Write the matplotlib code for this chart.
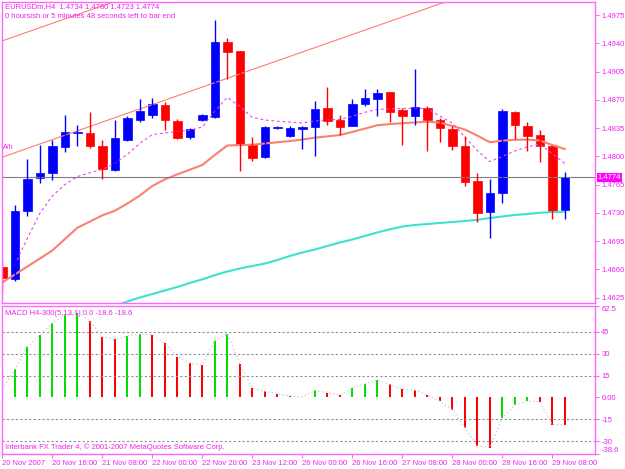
import numpy as np
import matplotlib.pyplot as plt
from matplotlib.transforms import blended_transform_factory

plt.rcParams['font.family'] = ['Liberation Sans', 'DejaVu Sans']

# EURUSDm H4 candles, 20 Nov 2007 .. 29 Nov 2007
opens = [1.46628, 1.46483, 1.47318, 1.47729, 1.47798, 1.48115, 1.48284, 1.48293,
         1.48131, 1.47832, 1.48206, 1.48455, 1.48508, 1.48633, 1.48442, 1.48234,
         1.48446, 1.48488, 1.49410, 1.49305, 1.48156, 1.47990, 1.48347, 1.48247,
         1.48339, 1.48364, 1.48600, 1.48455, 1.48371, 1.48654, 1.48704, 1.48795,
         1.48571, 1.48496, 1.48600, 1.48446, 1.48343, 1.48131, 1.47699, 1.47305,
         1.47549, 1.48551, 1.48380, 1.48268, 1.48122, 1.4734]
highs = [1.46711, 1.47392, 1.47965, 1.48143, 1.48197, 1.48517, 1.48392, 1.48546,
         1.48206, 1.48446, 1.48496, 1.48704, 1.48725, 1.48667, 1.48467, 1.48351,
         1.48530, 1.49691, 1.49464, 1.49310, 1.48234, 1.48370, 1.48376, 1.48380,
         1.48380, 1.48691, 1.48862, 1.48517, 1.48704, 1.48828, 1.48828, 1.48800,
         1.48600, 1.49086, 1.48629, 1.48476, 1.48371, 1.48247, 1.47798, 1.47724,
         1.48588, 1.48567, 1.48430, 1.48330, 1.48125, 1.4780]
lows = [1.46316, 1.46462, 1.47259, 1.47674, 1.47707, 1.48052, 1.48122, 1.48102,
        1.47724, 1.47820, 1.48185, 1.48426, 1.48476, 1.48330, 1.48214, 1.48214,
        1.48442, 1.48470, 1.48953, 1.47819, 1.47944, 1.47980, 1.48339, 1.48239,
        1.48090, 1.47999, 1.48389, 1.48268, 1.48371, 1.48629, 1.48496, 1.48426,
        1.48140, 1.48384, 1.48072, 1.48172, 1.48081, 1.47633, 1.47188, 1.46993,
        1.47425, 1.48214, 1.48072, 1.47935, 1.47230, 1.4723]
closes = [1.46495, 1.47325, 1.47720, 1.47798, 1.48131, 1.48301, 1.48301, 1.48131,
          1.47844, 1.48227, 1.48476, 1.48558, 1.48642, 1.48446, 1.48222, 1.48334,
          1.48517, 1.49414, 1.49293, 1.48140, 1.47981, 1.48364, 1.48368, 1.48351,
          1.48364, 1.48588, 1.48434, 1.48364, 1.48654, 1.48725, 1.48782, 1.48551,
          1.48505, 1.48608, 1.48446, 1.48351, 1.48131, 1.47686, 1.47300, 1.47542,
          1.48558, 1.48384, 1.48247, 1.48122, 1.47313, 1.4774]

# moving averages
ma_slow = [1.46438, 1.46537, 1.46635, 1.46734, 1.46834, 1.46974, 1.47115, 1.47192,
           1.47269, 1.47326, 1.47415, 1.47514, 1.47633, 1.47714, 1.47777, 1.47834,
           1.47893, 1.48016, 1.48134, 1.48140, 1.48143, 1.48159, 1.48174, 1.48189,
           1.48208, 1.48231, 1.48247, 1.48264, 1.48302, 1.48343, 1.48385, 1.48399,
           1.48410, 1.48419, 1.48429, 1.48419, 1.48376, 1.48332, 1.48257, 1.48175,
           1.48194, 1.48205, 1.48208, 1.48196, 1.48140, 1.48091]
ma_fast = [np.nan, 1.46654, 1.46984, 1.47293, 1.47509, 1.47650, 1.47750, 1.47795,
           1.47837, 1.47911, 1.48024, 1.48160, 1.48270, 1.48289, 1.48307, 1.48324,
           1.48363, 1.48558, 1.48731, 1.48617, 1.48483, 1.48450, 1.48435, 1.48425,
           1.48413, 1.48437, 1.48452, 1.48457, 1.48496, 1.48545, 1.48580, 1.48589,
           1.48592, 1.48595, 1.48592, 1.48499, 1.48413, 1.48239, 1.48072, 1.47935,
           1.47998, 1.48067, 1.48116, 1.48153, 1.48034, 1.47911]
ma_long_start = 9
ma_long = [1.46147, 1.46202, 1.46252, 1.46295, 1.46339, 1.46382, 1.46432, 1.46477,
           1.46528, 1.46574, 1.46611, 1.46642, 1.46672, 1.46716, 1.46766, 1.46809,
           1.46846, 1.46890, 1.46933, 1.46970, 1.47014, 1.47057, 1.47096, 1.47131,
           1.47150, 1.47162, 1.47175, 1.47187, 1.47199, 1.47214, 1.47236, 1.47255,
           1.47274, 1.47286, 1.47301, 1.47311, 1.47314]

# channel trendlines (anchor bars and prices)
channel_bars = [0, 45]
channel_low = [1.4799, 1.5043]
channel_high = [1.4943, 1.5187]

bid = 1.4774

macd = [5.7, 19.5, 34.5, 42.7, 50.9, 56.6, 58.0, 52.3, 41.6, 39.8, 42.0, 43.2,
        43.0, 37.0, 28.0, 23.4, 22.5, 38.9, 43.6, 23.0, 6.4, 4.1, 2.5, 1.1, 0.3,
        4.8, 3.4, 1.6, 6.4, 9.3, 12.0, 8.9, 5.7, 5.0, 1.8, -2.5, -8.4, -20.5,
        -33.0, -34.5, -14.1, -5.2, -2.3, -3.0, -18.5, -18.6]

price_ticks = [1.4975, 1.4940, 1.4905, 1.4870, 1.4835, 1.4800, 1.4765,
               1.4730, 1.4695, 1.4660, 1.4625]
macd_ticks = [62.5, 45, 30, 15, 0, -15, -30, -38.6]
macd_tick_labels = ['62.5', '45', '30', '15', '0.00', '-15', '-30', '-38.6']
macd_levels = [45, 30, 15, -15, -30]
date_ticks = [0, 4, 8, 12, 16, 20, 24, 28, 32, 36, 40, 44]
date_labels = ['20 Nov 2007', '20 Nov 16:00', '21 Nov 08:00', '22 Nov 00:00',
               '22 Nov 20:00', '23 Nov 12:00', '26 Nov 00:00', '26 Nov 16:00',
               '27 Nov 08:00', '28 Nov 00:00', '28 Nov 16:00', '29 Nov 08:00']

PINK = '#FF66FF'
TXT = '#F020F0'
FS = 5.5

x = np.arange(len(opens))
o = np.array(opens); c = np.array(closes)
up = c >= o
cand_col = np.where(up, '#0000FF', '#FF0000')

fig = plt.figure(figsize=(6.25, 4.69), dpi=100)
ax = fig.add_axes([2 / 625, 1 - 303 / 469, 593 / 625, 301 / 469])
ax2 = fig.add_axes([2 / 625, 1 - 454 / 469, 593 / 625, 148 / 469])

xlim = (-0.024, 47.42)

# ---- price panel
ax.plot(channel_bars, channel_low, color='#FA8072', lw=0.8)
ax.plot(channel_bars, channel_high, color='#FA8072', lw=0.8)
ax.plot(x[ma_long_start:], ma_long, color='#40E0D0', lw=1.5)
ax.plot(x, ma_slow, color='#FA8072', lw=1.5)
ax.plot(x, ma_fast, color='#EE44EE', lw=0.8, ls=(0, (2.5, 2.5)))
ax.axhline(bid, color='#808080', lw=0.8)

ax.vlines(x, lows, highs, colors=cand_col, lw=1.0)
ax.bar(x, np.abs(c - o), bottom=np.minimum(o, c), width=0.68,
       color=cand_col, edgecolor=cand_col, linewidth=0.5)

ax.set_xlim(*xlim)
ax.set_ylim(1.46184, 1.49911)
ax.set_xticks([])
ax.yaxis.tick_right()
ax.set_yticks(price_ticks)
ax.set_yticklabels(['%.4f' % p for p in price_ticks])
ax.tick_params(axis='y', colors=PINK, labelcolor=TXT, labelsize=FS,
               length=3, width=0.8, pad=1.5)
for s in ax.spines.values():
    s.set_color(PINK)
    s.set_linewidth(1.0)

ax.text(0.005, 0.997, 'EURUSDm,H4  1.4734 1.4780 1.4723 1.4774',
        transform=ax.transAxes, ha='left', va='top', color=TXT, fontsize=FS)
ax.text(0.005, 0.963, '0 hoursish or 5 minutes 48 seconds left to bar end',
        transform=ax.transAxes, ha='left', va='top', color=TXT, fontsize=FS)
ax.text(0.002, 0.515, 'A/h', transform=ax.transAxes, ha='left', va='center',
        color=TXT, fontsize=FS - 0.5)
tr = blended_transform_factory(ax.transAxes, ax.transData)
ax.text(1.004, bid, '1.4774', transform=tr, ha='left', va='center',
        color='white', fontsize=FS, zorder=5,
        bbox=dict(facecolor='#FF00FF', edgecolor='none', pad=0.6))

# ---- MACD panel
m = np.array(macd)
rising = np.r_[False, m[1:] > m[:-1]]
bar_col = np.where(rising, '#00E000', '#FF0000')
for lv in macd_levels:
    ax2.axhline(lv, color='#909090', lw=0.8, ls=(0, (2, 2)))
ax2.bar(x, m, width=0.17, color=bar_col)
ax2.plot(x, m, color='#C8C8C8', lw=0.9, ls=(0, (1, 2)))

ax2.set_xlim(*xlim)
ax2.set_ylim(-38.6, 62.5)
ax2.yaxis.tick_right()
ax2.set_yticks(macd_ticks)
ax2.set_yticklabels(macd_tick_labels)
ax2.tick_params(axis='y', colors=PINK, labelcolor=TXT, labelsize=FS,
                length=3, width=0.8, pad=1.5)
labs = ax2.get_yticklabels()
labs[0].set_va('top')
labs[-1].set_va('bottom')
ax2.set_xticks(date_ticks)
ax2.set_xticklabels(date_labels)
ax2.tick_params(axis='x', colors=PINK, labelcolor=TXT, labelsize=FS,
                length=3, width=0.8, pad=1)
for lab in ax2.get_xticklabels():
    lab.set_ha('left')
for s in ax2.spines.values():
    s.set_color(PINK)
    s.set_linewidth(1.0)

ax2.text(0.005, 0.973, 'MACD H4-300(5,13,1) 0.0 -18.6 -18.6',
         transform=ax2.transAxes, ha='left', va='top', color=TXT, fontsize=FS)
ax2.text(0.005, 0.02, 'Interbank FX Trader 4, \u00a9 2001-2007 MetaQuotes Software Corp.',
         transform=ax2.transAxes, ha='left', va='bottom', color=TXT, fontsize=FS)

fig.savefig('out.png', dpi=100, facecolor='white')
